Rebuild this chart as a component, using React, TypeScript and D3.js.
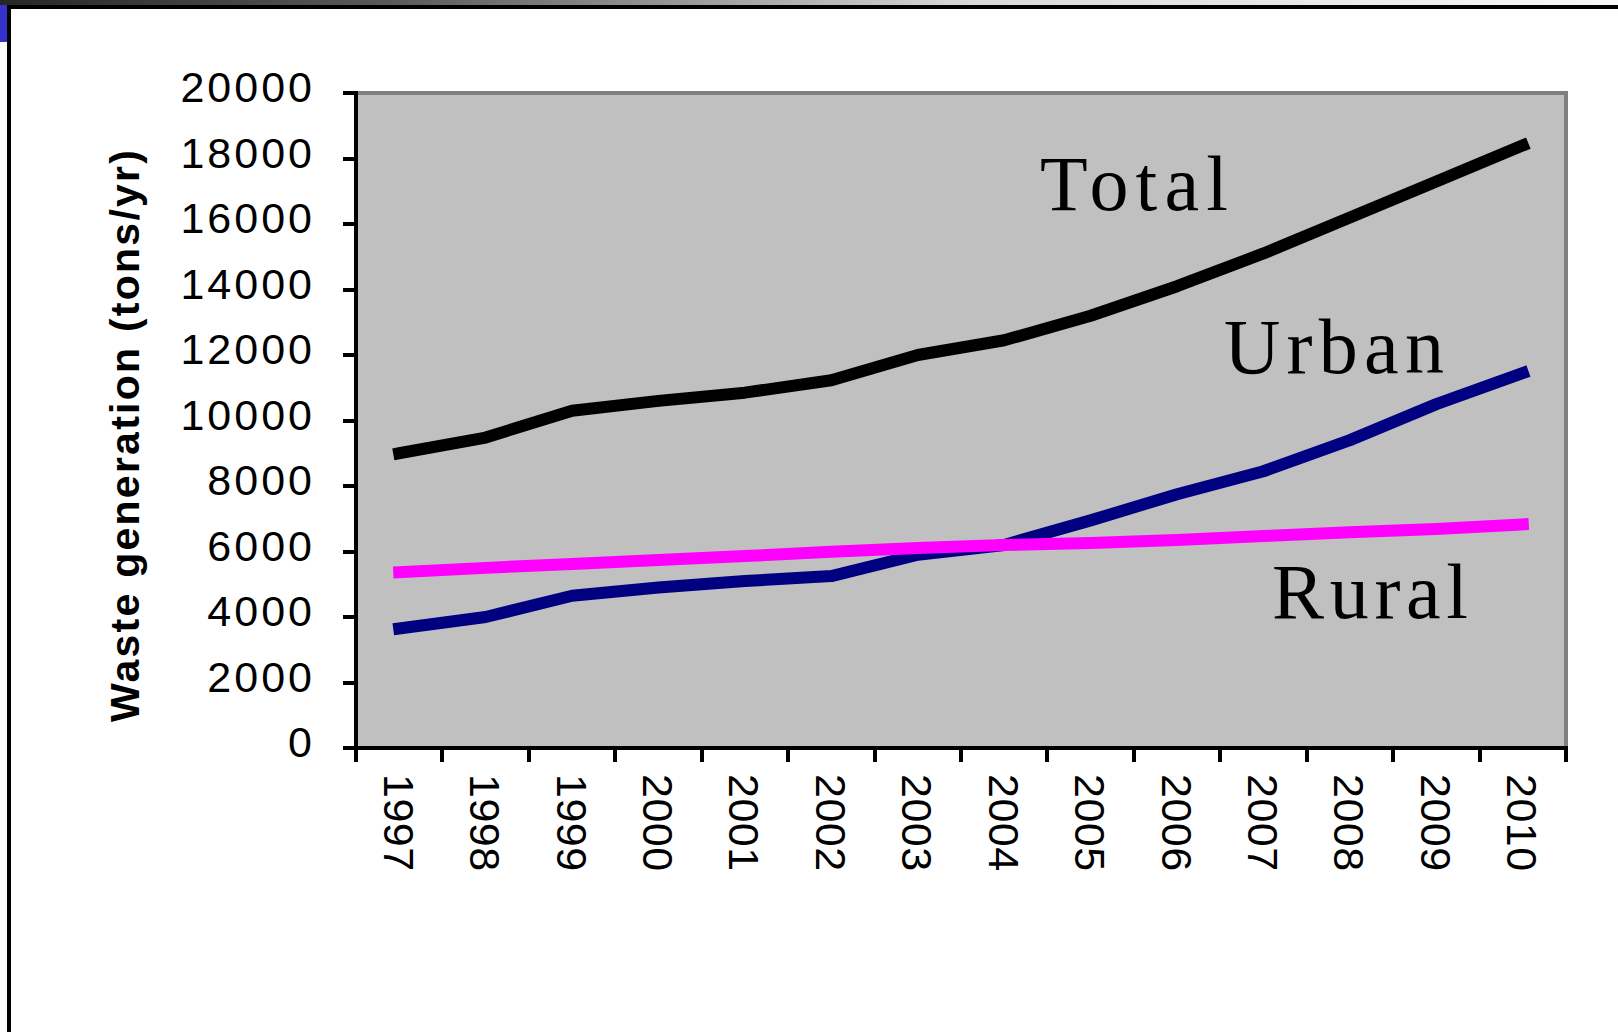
import React from 'react';
import * as d3 from 'd3';

const years = ['1997', '1998', '1999', '2000', '2001', '2002', '2003', '2004', '2005', '2006', '2007', '2008', '2009', '2010'];
const totalValues = [9000, 9480, 10300, 10600, 10850, 11230, 12000, 12450, 13200, 14100, 15100, 16200, 17300, 18400];
const urbanValues = [3650, 4000, 4650, 4900, 5100, 5250, 5900, 6200, 6950, 7750, 8450, 9400, 10500, 11450];
const ruralValues = [5370, 5500, 5620, 5740, 5860, 5990, 6110, 6200, 6260, 6350, 6470, 6590, 6690, 6830];
const yTicks = [0, 2000, 4000, 6000, 8000, 10000, 12000, 14000, 16000, 18000, 20000];
const seriesNames = ['Total', 'Urban', 'Rural'];
const seriesColors = ['#000000', '#000080', '#ff00ff'];
const yAxisTitle = 'Waste generation (tons/yr)';

const W = 1618;
const H = 1032;
const PLOT = { left: 356, right: 1566, top: 93, bottom: 748 };

// label placement: [x, baseline y, text length]
const labelLayout = [
  [1040, 210, 188],
  [1224, 373, 220],
  [1272, 618, 196],
];

export default function App() {
  const x = d3.scaleBand<string>().domain(years).range([PLOT.left, PLOT.right]).paddingInner(0).paddingOuter(0);
  const y = d3.scaleLinear().domain([0, 20000]).range([PLOT.bottom, PLOT.top]);
  const cx = (yr: string) => (x(yr) as number) + x.bandwidth() / 2;

  const series = [totalValues, urbanValues, ruralValues];
  const line = d3
    .line<number>()
    .x((_, i) => cx(years[i]))
    .y((v) => y(v));

  const tickXs = years.map((yr) => x(yr) as number).concat([PLOT.right]);

  return (
    <svg width={W} height={H} style={{ position: 'absolute', left: 0, top: 0, background: '#ffffff' }}>
      <defs>
        <linearGradient id="topbar" x1="0" x2="1" y1="0" y2="0">
          <stop offset="0" stopColor="#262626" />
          <stop offset="0.25" stopColor="#5c5c5c" />
          <stop offset="0.6" stopColor="#d8d8d8" />
          <stop offset="1" stopColor="#f8f8f8" />
        </linearGradient>
      </defs>
      <rect x={0} y={0} width={W} height={H} fill="#ffffff" />
      {/* window frame */}
      <rect x={0} y={0} width={W} height={5} fill="url(#topbar)" />
      <rect x={7} y={5} width={W - 7} height={4} fill="#000000" />
      <rect x={7} y={5} width={4} height={H - 5} fill="#000000" />
      <rect x={0} y={5} width={7} height={37} fill="#3333cc" />

      {/* plot area */}
      <rect x={PLOT.left} y={PLOT.top} width={PLOT.right - PLOT.left} height={PLOT.bottom - PLOT.top} fill="#c0c0c0" />
      <g shapeRendering="crispEdges">
        <rect x={PLOT.left} y={PLOT.top - 2} width={PLOT.right - PLOT.left + 2} height={4} fill="#808080" />
        <rect x={PLOT.right - 2} y={PLOT.top - 2} width={4} height={PLOT.bottom - PLOT.top + 2} fill="#808080" />
      </g>

      {/* series lines */}
      {series.map((vals, i) => (
        <path
          key={seriesNames[i]}
          d={line(vals) as string}
          fill="none"
          stroke={seriesColors[i]}
          strokeWidth={12}
          strokeLinecap="square"
          strokeLinejoin="round"
        />
      ))}

      {/* axes */}
      <g shapeRendering="crispEdges" fill="#000000">
        <rect x={PLOT.left - 2} y={PLOT.top - 2} width={4} height={PLOT.bottom - PLOT.top + 4} />
        <rect x={PLOT.left - 13} y={PLOT.bottom - 2} width={PLOT.right - PLOT.left + 15} height={4} />
        {yTicks.map((t) => (
          <rect key={'yt' + t} x={PLOT.left - 13} y={y(t) - 2} width={13} height={4} />
        ))}
        {tickXs.map((tx, i) => (
          <rect key={'xt' + i} x={tx - 2} y={PLOT.bottom} width={4} height={14} />
        ))}
      </g>

      {/* y tick labels */}
      <g fontFamily="'Liberation Sans', Arial, sans-serif" fontSize={43} fill="#000000">
        {yTicks.map((t) => (
          <text key={'yl' + t} x={315} y={y(t) + 9} textAnchor="end" letterSpacing={3}>
            {String(t)}
          </text>
        ))}
      </g>

      {/* x tick labels (rotated) */}
      <g fontFamily="'Liberation Sans', Arial, sans-serif" fontSize={43} fill="#000000">
        {years.map((yr) => (
          <text
            key={'xl' + yr}
            transform={`translate(${cx(yr)},774) rotate(90)`}
            x={0}
            y={15.5}
            letterSpacing={0.5}
          >
            {yr}
          </text>
        ))}
      </g>

      {/* y axis title */}
      <text
        transform="translate(139,436) rotate(-90)"
        textAnchor="middle"
        fontFamily="'Liberation Sans', Arial, sans-serif"
        fontWeight="bold"
        fontSize={41}
        textLength={572}
        lengthAdjust="spacing"
        fill="#000000"
      >
        {yAxisTitle}
      </text>

      {/* series labels */}
      {seriesNames.map((name, i) => (
        <text
          key={'lab' + name}
          x={labelLayout[i][0]}
          y={labelLayout[i][1]}
          fontFamily="'Liberation Serif', 'Times New Roman', serif"
          fontSize={78}
          textLength={labelLayout[i][2]}
          lengthAdjust="spacing"
          fill="#000000"
        >
          {name}
        </text>
      ))}
    </svg>
  );
}
